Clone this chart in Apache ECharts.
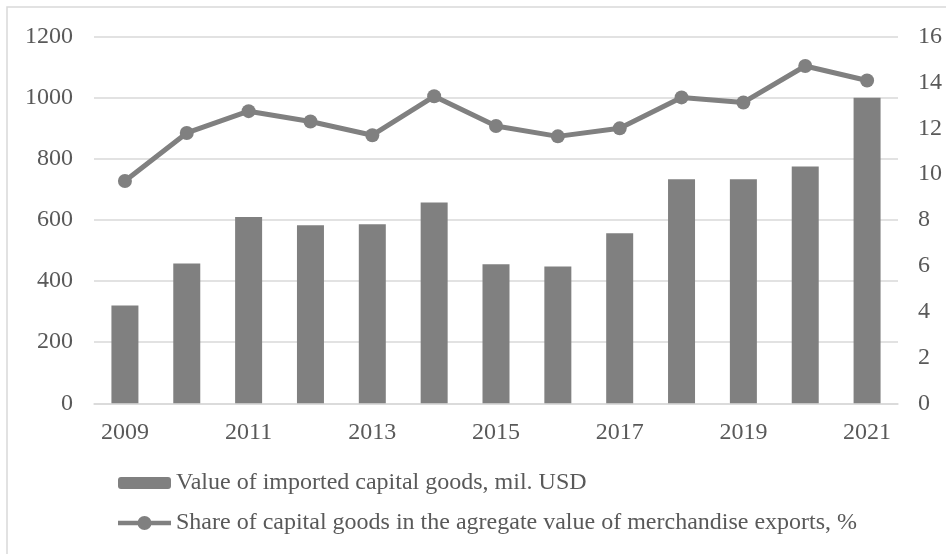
<!DOCTYPE html>
<html>
<head>
<meta charset="utf-8">
<script src="https://cdn.jsdelivr.net/npm/echarts@6/dist/echarts.min.js"></script>
<style>html,body{margin:0;padding:0;background:#fff}#c{width:946px;height:554px}</style>
</head>
<body>
<div id="c"></div>
<script>
const years = ['2009','2010','2011','2012','2013','2014','2015','2016','2017','2018','2019','2020','2021'];
const importValue = [320, 458, 610, 583, 586, 657, 455, 448, 557, 733, 733, 775, 1000];
const exportShare = [9.7, 11.8, 12.75, 12.3, 11.7, 13.4, 12.1, 11.65, 12.0, 13.35, 13.13, 14.72, 14.09];
const barName = 'Value of imported capital goods, mil. USD';
const lineName = 'Share of capital goods in the agregate value of merchandise exports, %';

const FONT = '"Liberation Serif", "Times New Roman", serif';
const TXT = '#595959';
const GREY = '#808080';
const GRID = '#d9d9d9';
const FS = 24;
const LINE_ICON = 'path://M0,4.75 L53,4.75 L53,9.25 L0,9.25 Z M19.5,7 A7,7 0 1 1 33.5,7 A7,7 0 1 1 19.5,7 Z';

const chart = echarts.init(document.getElementById('c'), null, {renderer: 'canvas'});
chart.setOption({
  animation: false,
  backgroundColor: '#fff',
  textStyle: {fontFamily: FONT},
  graphic: [{
    type: 'rect', shape: {x: 7, y: 7, width: 960, height: 570},
    style: {fill: 'none', stroke: GRID, lineWidth: 1.5}, silent: true
  }],
  grid: {left: 94, right: 48, top: 36.7, bottom: 150.7, containLabel: false},
  legend: [{
    data: [barName], orient: 'vertical', left: 118, top: 471, padding: 0,
    itemWidth: 53, itemHeight: 12,
    textStyle: {fontFamily: FONT, fontSize: FS, color: TXT}
  }, {
    data: [{name: lineName, icon: LINE_ICON}], orient: 'vertical', left: 118, top: 511, padding: 0,
    itemWidth: 53, itemHeight: 14,
    itemStyle: {color: GREY, borderWidth: 0},
    textStyle: {fontFamily: FONT, fontSize: FS, color: TXT}
  }],
  xAxis: {
    type: 'category', data: years,
    axisLine: {show: true, lineStyle: {color: GRID, width: 1.5}},
    axisTick: {show: false},
    axisLabel: {interval: 1, margin: 17, fontFamily: FONT, fontSize: FS, color: TXT}
  },
  yAxis: [{
    type: 'value', min: 0, max: 1200, interval: 200,
    axisLine: {show: false}, axisTick: {show: false},
    splitLine: {lineStyle: {color: GRID, width: 1.5}},
    axisLabel: {margin: 21, fontFamily: FONT, fontSize: FS, color: TXT, formatter: v => String(v)}
  }, {
    type: 'value', min: 0, max: 16, interval: 2,
    axisLine: {show: false}, axisTick: {show: false},
    splitLine: {show: false},
    axisLabel: {margin: 20, fontFamily: FONT, fontSize: FS, color: TXT, formatter: v => String(v)}
  }],
  series: [{
    name: barName, type: 'bar', data: importValue, yAxisIndex: 0,
    barWidth: 27, itemStyle: {color: GREY}
  }, {
    name: lineName, type: 'line', data: exportShare, yAxisIndex: 1,
    symbol: 'circle', symbolSize: 14,
    lineStyle: {color: GREY, width: 5},
    itemStyle: {color: GREY}
  }]
});
</script>
</body>
</html>
